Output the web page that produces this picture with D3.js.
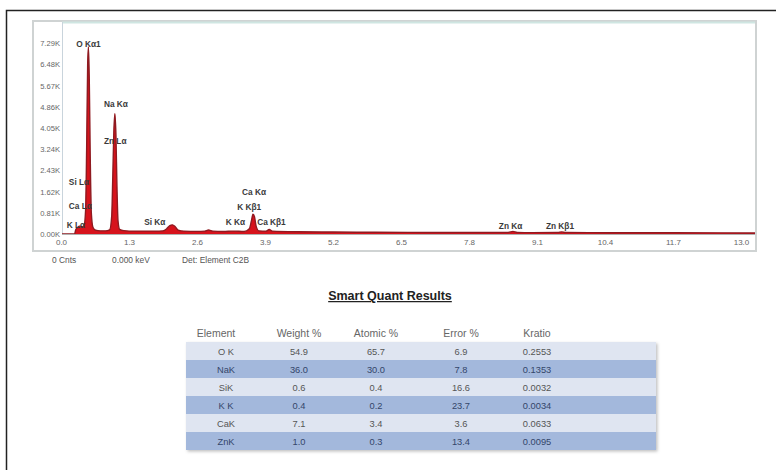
<!DOCTYPE html>
<html><head><meta charset="utf-8">
<script src="https://cdn.jsdelivr.net/npm/d3@7"></script>
<style>body{margin:0;background:#fff;}svg{display:block;}</style>
</head><body>
<svg id="c" width="776" height="470"></svg>
<script>
// ---- data ----
const spectrumKeV = [0.00,0.26,0.28,0.32,0.36,0.40,0.44,0.47,0.49,0.51,0.525,0.54,0.56,0.58,0.61,0.66,0.75,0.85,0.93,0.97,0.99,1.01,1.03,1.05,1.07,1.09,1.12,1.20,1.40,1.60,1.80,1.95,2.02,2.08,2.13,2.18,2.24,2.35,2.60,2.75,2.82,2.90,3.10,3.30,3.50,3.60,3.64,3.67,3.70,3.73,3.78,3.92,3.98,4.04,4.50,5.20,6.00,7.00,8.00,8.55,8.64,8.72,9.00,9.50,9.57,9.65,10.50,11.70,13.29];
const spectrumCounts = [0,0,150,260,300,280,320,900,3200,6500,7150,6000,2800,800,260,150,120,120,160,700,2200,3900,4600,3800,1800,500,180,130,110,110,110,120,200,320,350,290,150,110,100,110,150,110,95,110,95,200,500,760,650,300,120,110,170,110,85,75,65,60,55,60,100,60,52,55,80,55,50,45,40];
const yTicks = [0,810,1620,2430,3240,4050,4860,5670,6480,7290];
const xTicks = [0.0,1.3,2.6,3.9,5.2,6.5,7.8,9.1,10.4,11.7,13.0];
const peakLabels = ["O Kα1","Na Kα","Zn Lα","Si Lα","Ca Lα","K Lα","Si Kα","K Kα","Ca Kβ1","K Kβ1","Ca Kα","Zn Kα","Zn Kβ1"];
const peakLabelKeV = [0.29,0.82,0.82,0.15,0.15,0.11,1.59,3.15,3.75,3.37,3.46,8.37,9.27];
const peakLabelCounts = [7140,4850,3440,1870,955,230,340,340,340,920,1490,190,190];
const footer = ["0 Cnts","0.000 keV","Det: Element C2B"];
const tableTitle = "Smart Quant Results";
const columns = ["Element","Weight %","Atomic %","Error %","Kratio"];
const elements = ["O K","NaK","SiK","K K","CaK","ZnK"];
const weightPct = ["54.9","36.0","0.6","0.4","7.1","1.0"];
const atomicPct = ["65.7","30.0","0.4","0.2","3.4","0.3"];
const errorPct = ["6.9","7.8","16.6","23.7","3.6","13.4"];
const kratio = ["0.2553","0.1353","0.0032","0.0034","0.0633","0.0095"];

// ---- drawing ----
const FONT = "Liberation Sans, Arial, sans-serif";
const svg = d3.select("#c");
svg.append("path").attr("d","M6.5,470 V10.5 H776").attr("fill","none").attr("stroke","#222").attr("stroke-width",1.5);

svg.append("rect").attr("x",33).attr("y",21).attr("width",723).attr("height",230)
  .attr("fill","#fff").attr("stroke","#cfd3d3").attr("stroke-width",2);

const plotL = 62, plotR = 755, plotT = 22, plotB = 234;
const x = d3.scaleLinear().domain([0,13.0]).range([61,741]);
const y = d3.scaleLinear().domain([0,8100]).range([plotB,plotT]);

svg.append("line").attr("x1",plotL).attr("x2",plotR).attr("y1",plotT+0.5).attr("y2",plotT+0.5).attr("stroke","#cfe6e2").attr("stroke-width",2);
svg.append("line").attr("x1",plotL+0.5).attr("x2",plotL+0.5).attr("y1",plotT).attr("y2",plotB).attr("stroke","#c9d4dc").attr("stroke-width",1);

const pts = spectrumKeV.map((k,i)=>[k,spectrumCounts[i]]);
const area = d3.area().x(d=>x(d[0])).y0(y(0)).y1(d=>y(d[1])).curve(d3.curveMonotoneX);
const line = d3.line().x(d=>x(d[0])).y(d=>y(d[1])).curve(d3.curveMonotoneX);
svg.append("clipPath").attr("id","clp").append("rect").attr("x",plotL).attr("y",plotT).attr("width",plotR-plotL).attr("height",plotB-plotT+2);
const pg = svg.append("g").attr("clip-path","url(#clp)");
pg.append("path").datum(pts).attr("d",area).attr("fill","#d7131c");
pg.append("path").datum(pts).attr("d",line).attr("fill","none").attr("stroke","#8f1a20").attr("stroke-width",1.4);

svg.append("line").attr("x1",plotL).attr("x2",plotR).attr("y1",plotB+0.5).attr("y2",plotB+0.5).attr("stroke","#b0b0b0");

const xAxis = d3.axisBottom(x).tickValues(xTicks).tickSize(0).tickPadding(4).tickFormat(d3.format(".1f"));
const xa = svg.append("g").attr("transform",`translate(0,${plotB+1})`).call(xAxis);
xa.select(".domain").remove();
xa.selectAll("text").attr("font-family",FONT).attr("font-size",8).attr("fill","#666");

const yAxis = d3.axisLeft(y).tickValues(yTicks).tickSize(0).tickPadding(2).tickFormat(d=>(d/1000).toFixed(2)+"K");
const ya = svg.append("g").attr("transform",`translate(${plotL},0)`).call(yAxis);
ya.select(".domain").remove();
ya.selectAll("text").attr("font-family",FONT).attr("font-size",7.6).attr("fill","#666");

svg.append("g").selectAll("text").data(peakLabels).join("text")
  .attr("x",(d,i)=>x(peakLabelKeV[i])).attr("y",(d,i)=>y(peakLabelCounts[i]))
  .attr("font-family",FONT).attr("font-size",8.3).attr("font-weight","bold").attr("fill","#3a3a3a")
  .text(d=>d);

const footX = [52,112,182];
svg.append("g").selectAll("text").data(footer).join("text")
  .attr("x",(d,i)=>footX[i]).attr("y",263)
  .attr("font-family",FONT).attr("font-size",8.4).attr("fill","#555").text(d=>d);

svg.append("text").attr("x",390).attr("y",300).attr("text-anchor","middle")
  .attr("font-family",FONT).attr("font-size",12.5).attr("font-weight","bold")
  .attr("fill","#222").attr("text-decoration","underline").text(tableTitle);

const tL = 186, tR = 656, rowH = 18, rowTop = 342;
const colX = [226,299,376,461,537];
const headX = [216,299,376,461,537];
const rows = elements.map((e,i)=>[e,weightPct[i],atomicPct[i],errorPct[i],kratio[i]]);
const f = svg.append("defs").append("filter").attr("id","sh").attr("x","-5%").attr("y","-5%").attr("width","110%").attr("height","115%");
f.append("feDropShadow").attr("dx",1.5).attr("dy",1.5).attr("stdDeviation",1.5).attr("flood-color","#000").attr("flood-opacity",0.25);
svg.append("rect").attr("x",tL).attr("y",rowTop).attr("width",tR-tL).attr("height",rowH*rows.length).attr("fill","#dfe5f1").attr("filter","url(#sh)");
svg.append("g").selectAll("rect").data(rows).join("rect")
  .attr("x",tL).attr("y",(d,i)=>rowTop+i*rowH).attr("width",tR-tL).attr("height",rowH)
  .attr("fill",(d,i)=>i%2?"#a3b8dc":"#dfe5f1");
svg.append("g").selectAll("text").data(columns).join("text")
  .attr("x",(d,i)=>headX[i]).attr("y",rowTop-5).attr("text-anchor","middle")
  .attr("font-family",FONT).attr("font-size",10.5).attr("fill","#666").text(d=>d);
rows.forEach((r,i)=>{
  svg.append("g").selectAll("text").data(r).join("text")
    .attr("x",(d,j)=>colX[j]).attr("y",rowTop+i*rowH+12.5).attr("text-anchor","middle")
    .attr("font-family",FONT).attr("font-size",9.3)
    .attr("fill",i%2?"#34466a":"#555").text(d=>d);
});
</script>
</body></html>
